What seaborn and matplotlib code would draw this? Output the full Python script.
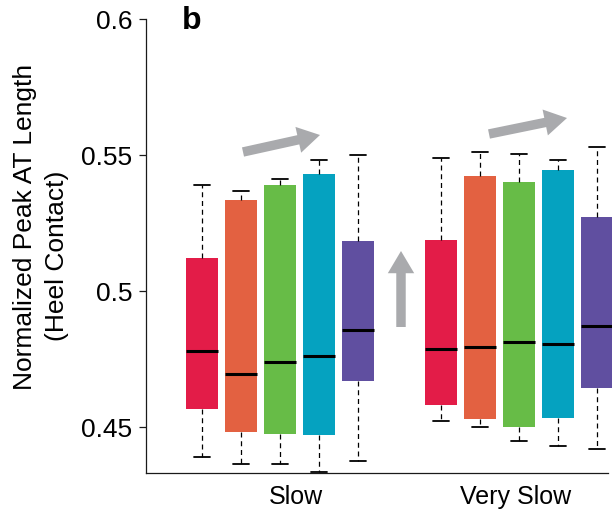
import numpy as np
import pandas as pd
import matplotlib
matplotlib.use("Agg")
import matplotlib.pyplot as plt
import seaborn as sns

# ---- data (five-number summaries: min, q1, median, q3, max)
speeds = ["Slow", "Very Slow"]
conditions = ["C1", "C2", "C3", "C4", "C5"]
colors = ["#E31C48", "#E36141", "#67BC47", "#05A2C0", "#604FA0"]

slow_c1 = [0.4391, 0.4565, 0.4781, 0.5123, 0.5390]
slow_c2 = [0.4364, 0.4480, 0.4697, 0.5336, 0.5367]
slow_c3 = [0.4364, 0.4473, 0.4738, 0.5392, 0.5414]
slow_c4 = [0.4333, 0.4469, 0.4763, 0.5431, 0.5484]
slow_c5 = [0.4375, 0.4668, 0.4859, 0.5185, 0.5500]

vslow_c1 = [0.4521, 0.4583, 0.4787, 0.5189, 0.5489]
vslow_c2 = [0.4500, 0.4528, 0.4794, 0.5424, 0.5512]
vslow_c3 = [0.4447, 0.4499, 0.4813, 0.5402, 0.5506]
vslow_c4 = [0.4429, 0.4535, 0.4804, 0.5446, 0.5484]
vslow_c5 = [0.4420, 0.4642, 0.4872, 0.5274, 0.5531]

y_ticks = [0.45, 0.5, 0.55, 0.6]
y_tick_labels = ["0.45", "0.5", "0.55", "0.6"]

groups = {
    "Slow": [slow_c1, slow_c2, slow_c3, slow_c4, slow_c5],
    "Very Slow": [vslow_c1, vslow_c2, vslow_c3, vslow_c4, vslow_c5],
}
rows = []
for sp in speeds:
    for cond, vals in zip(conditions, groups[sp]):
        for v in vals:
            rows.append({"speed": sp, "cond": cond, "value": v})
df = pd.DataFrame(rows)

# ---- style
sns.set_style("white")
plt.rcParams["font.family"] = ["Liberation Sans", "DejaVu Sans"]
plt.rcParams["text.color"] = "black"
plt.rcParams["axes.labelcolor"] = "black"
plt.rcParams["xtick.color"] = "black"
plt.rcParams["ytick.color"] = "black"

fig = plt.figure(figsize=(6.12, 5.16), dpi=100)
ax = fig.add_axes([146 / 612, 1 - 472.7 / 516, (608 - 146) / 612, (472.7 - 19.5) / 516])

sns.boxplot(
    data=df, x="speed", y="value", hue="cond",
    order=speeds, hue_order=conditions, palette=colors,
    width=0.816, gap=0.18, saturation=1, whis=(0, 100),
    linecolor="black", legend=False, ax=ax,
    boxprops=dict(linewidth=0),
    whiskerprops=dict(linestyle=(0, (4, 3)), linewidth=0.9, color="black"),
    capprops=dict(linewidth=1.3, color="black"),
    medianprops=dict(linewidth=2.2, color="black"),
    showfliers=False,
)

for p in ax.patches:
    p.set_linewidth(0)
    p.set_clip_on(False)
for ln in ax.lines:
    ln.set_clip_on(False)

ax.set_ylim(0.4332, 0.6)
ax.set_xlim(-0.561, 1.372)
ax.set_yticks(y_ticks, y_tick_labels)
ax.set_xticks([0.067, 0.987], speeds)
ax.set_xlabel("")
ax.set_ylabel("")

for s in ["top", "right"]:
    ax.spines[s].set_visible(False)
for s in ["left", "bottom"]:
    ax.spines[s].set_linewidth(0.9)
    ax.spines[s].set_color("#1a1a1a")

ax.tick_params(axis="y", direction="out", length=5, width=0.9, color="#1a1a1a",
               labelcolor="black", labelsize=19, pad=5, left=True)
ax.tick_params(axis="x", length=0, labelsize=18, labelcolor="black", pad=9)

# y-axis label (two lines placed separately as in the reference)
fig.text(25 / 612, 1 - 226.5 / 516, "Normalized Peak AT Length", rotation=90,
         ha="center", va="center", fontsize=19, color="black")
fig.text(57 / 612, 1 - 256 / 516, "(Heel Contact)", rotation=90,
         ha="center", va="center", fontsize=19, color="black")

# panel letter
fig.text(182 / 612, 1 - 29 / 516, "b", fontsize=23, fontweight="bold",
         ha="left", va="baseline", color="black")

# trend arrows (figure pixel coordinates, origin bottom-left)
gray = "#A9AAAD"
arrow_style = "simple,head_length=0.8,head_width=0.95,tail_width=0.34"
for tail, tip in [((243, 364), (320, 381)), ((489, 382), (567, 398)), ((401, 189), (401, 265))]:
    ax.annotate("", xy=tip, xytext=tail, xycoords="figure pixels", textcoords="figure pixels",
                arrowprops=dict(arrowstyle=arrow_style, color=gray, mutation_scale=20,
                                shrinkA=0, shrinkB=0, lw=0))

fig.savefig("out.png", dpi=100)
